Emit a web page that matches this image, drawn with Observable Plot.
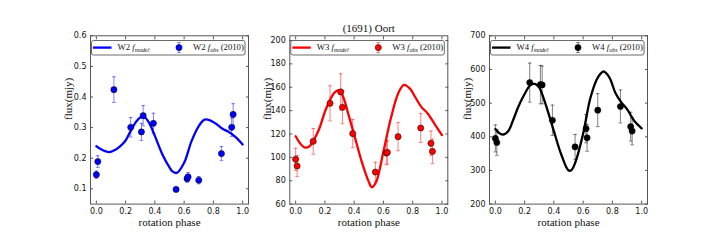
<!DOCTYPE html>
<html><head><meta charset="utf-8">
<script src="https://cdn.jsdelivr.net/npm/d3@7"></script>
<script src="https://cdn.jsdelivr.net/npm/@observablehq/plot@0.6"></script>
<style>
html,body{margin:0;padding:0;background:#fff;}
#wrap{position:relative;width:720px;height:240px;overflow:hidden;background:#fff;}
#wrap svg{position:absolute;left:0;top:0;}
</style></head><body><div id="wrap"></div>
<script>
// ---- data ----
const title = "(1691) Oort";
const xLabel = "rotation phase";
const yLabel = "flux(mjy)";
const xTicks = [0, 0.2, 0.4, 0.6, 0.8, 1.0];

const obsPhase = [0.0, 0.01, 0.12, 0.235, 0.308, 0.32, 0.39, 0.545, 0.62, 0.627, 0.70, 0.855, 0.925, 0.935];

const w2Obs = [0.146, 0.189, 0.424, 0.301, 0.286, 0.339, 0.314, 0.098, 0.133, 0.139, 0.128, 0.215, 0.301, 0.343];
const w2Err = [0.012, 0.019, 0.042, 0.032, 0.028, 0.033, 0.033, 0.006, 0.012, 0.014, 0.012, 0.023, 0.030, 0.035];
const w3Obs = [98.3, 92.6, 113.7, 146.2, 156.0, 142.8, 120.3, 87.4, 103.7, 104.2, 117.7, 125.1, 112.0, 105.1];
const w3Err = [9.5, 9, 11, 15, 15.5, 14, 12, 8.5, 10, 10, 12, 12.5, 10.5, 10.5];
const w4Obs = [395, 383, null, 561, 555, 554, 449, 370, 424, 397, 479, 490, 430, 417];
const w4Err = [40, 38, null, 58, 57, 56, 45, 37, 42, 40, 49, 49, 43, 41];

const modelPhase = [0, 0.03, 0.06, 0.09, 0.12, 0.16, 0.2, 0.24, 0.27, 0.3, 0.33, 0.36, 0.4, 0.45, 0.5, 0.52, 0.55, 0.6, 0.65, 0.7, 0.74, 0.78, 0.82, 0.86, 0.9, 0.95, 1.0];
const w2Model = [0.239, 0.230, 0.223, 0.220, 0.225, 0.238, 0.258, 0.294, 0.318, 0.333, 0.334, 0.316, 0.273, 0.214, 0.170, 0.157, 0.152, 0.185, 0.255, 0.305, 0.326, 0.323, 0.312, 0.297, 0.287, 0.270, 0.245];
const w3Model = [118, 112, 108.5, 109, 114, 124, 139, 150.5, 156, 157.5, 150, 137, 119.5, 97, 79, 74.5, 79, 105, 133, 154.5, 162, 159, 151, 143, 138, 128.5, 119];
const w4Model = [423, 410, 407, 418, 448, 492, 527, 554, 557, 546, 514, 474, 417, 348, 300, 301, 328, 409, 516, 576, 594, 576, 531, 503, 482, 447, 425];

const w2Ticks = [0.1, 0.2, 0.3, 0.4, 0.5, 0.6];
const w3Ticks = [60, 80, 100, 120, 140, 160, 180, 200];
const w4Ticks = [200, 300, 400, 500, 600, 700];

const bands = ["W2", "W3", "W4"];

// ---- layout / style ----
const W = 720, H = 240;
const frameTop = 35.3, frameBottom = 203.6;
const xDomain = [-0.04, 1.04];
const serif = "'Liberation Serif', 'DejaVu Serif', serif";
const sans = "'DejaVu Sans', sans-serif";

const panels = [
  {band: bands[0], left: 90, right: 248, yDomain: [0.05, 0.6], ticks: w2Ticks, fmt: d3.format(".1f"),
   obs: w2Obs, err: w2Err, model: w2Model, color: "#0000ff"},
  {band: bands[1], left: 289.3, right: 447.3, yDomain: [60, 204], ticks: w3Ticks, fmt: d3.format("d"),
   obs: w3Obs, err: w3Err, model: w3Model, color: "#ff0000", title: true},
  {band: bands[2], left: 489, right: 647, yDomain: [200, 700], ticks: w4Ticks, fmt: d3.format("d"),
   obs: w4Obs, err: w4Err, model: w4Model, color: "#000000"}
];

const capSymbol = {draw(ctx, size) { const w = Math.sqrt(size / Math.PI); ctx.moveTo(-w, 0); ctx.lineTo(w, 0); }};
const blank = () => "";

const wrap = document.getElementById("wrap");

for (const cfg of panels) {
  const obs = obsPhase.map((p, i) => ({p, v: cfg.obs[i], e: cfg.err[i]})).filter(d => d.v != null);
  const model = modelPhase.map((p, i) => ({p, v: cfg.model[i]}));
  const marks = [
    Plot.line(model, {x: "p", y: "v", stroke: cfg.color, strokeWidth: 2.3, curve: "catmull-rom"}),
    Plot.ruleX(obs, {x: "p", y1: d => d.v - d.e, y2: d => d.v + d.e, stroke: cfg.color, strokeOpacity: 0.5, strokeWidth: 1}),
    Plot.dot(obs, {x: "p", y: d => d.v + d.e, symbol: capSymbol, r: 1.8, fill: "none", stroke: cfg.color, strokeOpacity: 0.5, strokeWidth: 1}),
    Plot.dot(obs, {x: "p", y: d => d.v - d.e, symbol: capSymbol, r: 1.8, fill: "none", stroke: cfg.color, strokeOpacity: 0.5, strokeWidth: 1}),
    Plot.dot(obs, {x: "p", y: "v", r: 3.1, fill: cfg.color, stroke: "#000", strokeWidth: 0.5}),
    Plot.frame({stroke: "#555", strokeWidth: 1}),
    Plot.axisX(xTicks, {anchor: "bottom", tickSize: -3, tickFormat: blank, stroke: "#555"}),
    Plot.axisX(xTicks, {anchor: "top", tickSize: -3, tickFormat: blank, stroke: "#555"}),
    Plot.axisY(cfg.ticks, {anchor: "left", tickSize: -3, tickFormat: blank, stroke: "#555"}),
    Plot.axisY(cfg.ticks, {anchor: "right", tickSize: -3, tickFormat: blank, stroke: "#555"}),
    Plot.axisX(xTicks, {anchor: "bottom", tickSize: 0, tickPadding: 4, tickFormat: d3.format(".1f"), fontSize: 8, fontFamily: sans, fill: "#111"}),
    Plot.axisY(cfg.ticks, {anchor: "left", tickSize: 0, tickPadding: 4, tickFormat: cfg.fmt, fontSize: 8, fontFamily: sans, fill: "#111"}),
    Plot.text([yLabel], {text: d => d, frameAnchor: "left", dx: -22, rotate: -90, lineAnchor: "middle", fontSize: 11, fontFamily: serif, fill: "#111"}),
    Plot.text([xLabel], {text: d => d, frameAnchor: "bottom", dy: 18, lineAnchor: "middle", fontSize: 11, fontFamily: serif, fill: "#111"})
  ];
  if (cfg.title) {
    marks.push(Plot.text([title], {text: d => d, frameAnchor: "top", dy: -7, lineAnchor: "middle", fontSize: 11, fontFamily: serif, fill: "#111"}));
  }
  const svg = Plot.plot({
    width: W, height: H,
    marginLeft: cfg.left, marginRight: W - cfg.right,
    marginTop: frameTop, marginBottom: H - frameBottom,
    x: {domain: xDomain, label: null},
    y: {domain: cfg.yDomain, label: null},
    style: {background: "transparent", overflow: "visible"},
    marks
  });
  // legend
  const L = cfg.left;
  const g = d3.select(svg).append("g").attr("text-anchor", "start");
  g.append("rect").attr("x", L + 1.5).attr("y", 40.5).attr("width", 153.5).attr("height", 14.5)
    .attr("rx", 2).attr("fill", "#fff").attr("stroke", "#444").attr("stroke-width", 0.8);
  const cy = 47.6, by = 50.4;
  g.append("line").attr("x1", L + 3).attr("x2", L + 21.5).attr("y1", cy).attr("y2", cy)
    .attr("stroke", cfg.color).attr("stroke-width", 2.3);
  const t1 = g.append("text").attr("x", L + 27.5).attr("y", by).attr("text-anchor", "start")
    .attr("font-family", serif).attr("font-size", 8.7).attr("fill", "#111");
  t1.append("tspan").text(cfg.band + " ");
  t1.append("tspan").attr("font-style", "italic").text("f");
  t1.append("tspan").attr("font-style", "italic").attr("font-size", 6).attr("dy", 1.6).text("model");
  const mx = L + 89;
  g.append("line").attr("x1", mx).attr("x2", mx).attr("y1", cy - 5).attr("y2", cy + 5)
    .attr("stroke", cfg.color).attr("stroke-opacity", 0.5);
  g.append("line").attr("x1", mx - 1.8).attr("x2", mx + 1.8).attr("y1", cy - 5).attr("y2", cy - 5)
    .attr("stroke", cfg.color).attr("stroke-opacity", 0.5);
  g.append("line").attr("x1", mx - 1.8).attr("x2", mx + 1.8).attr("y1", cy + 5).attr("y2", cy + 5)
    .attr("stroke", cfg.color).attr("stroke-opacity", 0.5);
  g.append("circle").attr("cx", mx).attr("cy", cy).attr("r", 3.1).attr("fill", cfg.color)
    .attr("stroke", "#000").attr("stroke-width", 0.5);
  const t2 = g.append("text").attr("x", L + 103).attr("y", by).attr("text-anchor", "start")
    .attr("font-family", serif).attr("font-size", 8.7).attr("fill", "#111");
  t2.append("tspan").text(cfg.band + " ");
  t2.append("tspan").attr("font-style", "italic").text("f");
  t2.append("tspan").attr("font-style", "italic").attr("font-size", 6).attr("dy", 1.6).text("obs");
  t2.append("tspan").attr("dy", -1.6).text(" (2010)");
  wrap.appendChild(svg);
}
</script></body></html>
